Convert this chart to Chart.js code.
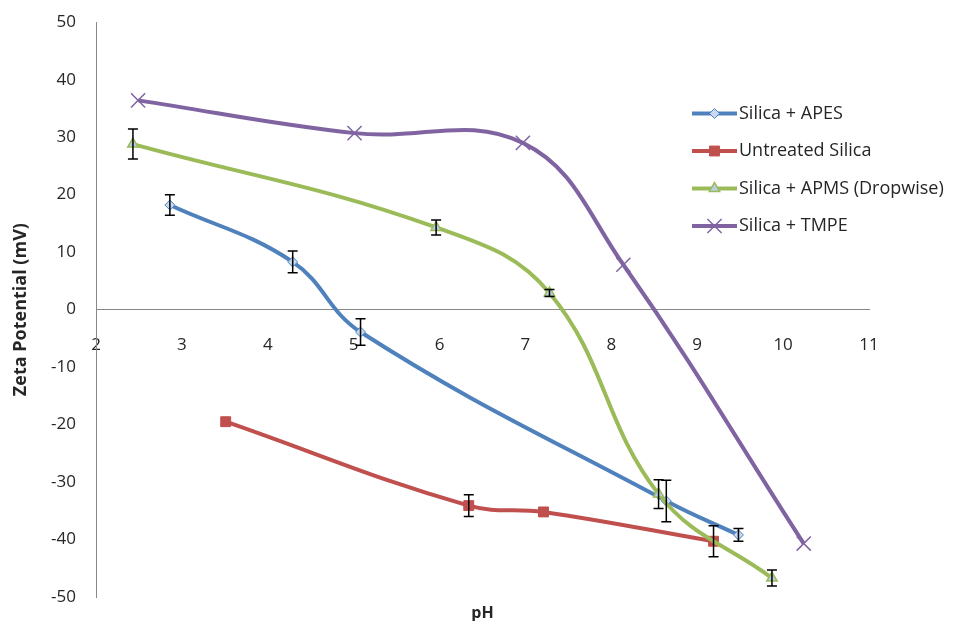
<!DOCTYPE html>
<html>
<head>
<meta charset="utf-8">
<script src="https://cdn.jsdelivr.net/npm/chart.js@4.4.0/dist/chart.umd.min.js"></script>
<style>
  html, body { margin: 0; padding: 0; background: #fff; }
</style>
</head>
<body>
<canvas id="zeta" width="954" height="621"></canvas>
<script>
"use strict";

//Series names
const seriesNames = ["Silica + APES", "Untreated Silica", "Silica + APMS (Dropwise)", "Silica + TMPE"];

//pH, zeta potential (mV) and error bar half-size
const apesPH = [2.86, 4.29, 5.08, 8.64, 9.48];
const apesZeta = [18.2, 8.3, -3.9, -33.3, -39.2];
const apesErr = [1.8, 1.9, 2.3, 3.6, 1.1];

const untreatedPH = [3.51, 6.34, 7.21, 9.19];
const untreatedZeta = [-19.5, -34.1, -35.2, -40.3];
const untreatedErr = [0, 1.9, 0, 2.7];

const apmsPH = [2.43, 5.96, 7.28, 8.55, 9.87];
const apmsZeta = [28.8, 14.3, 2.9, -32.1, -46.7];
const apmsErr = [2.6, 1.3, 0.6, 2.5, 1.4];

const tmpePH = [2.49, 5.01, 6.97, 8.14, 10.24];
const tmpeZeta = [36.4, 30.7, 29.0, 7.8, -40.7];
const tmpeErr = [0, 0, 0, 0, 0];

//Axis ranges
const xRange = [2, 11];
const yRange = [-50, 50];
const yStep = 10;

const FONT = "'Open Sans', Lato, sans-serif";
const TEXT = "#262626";

const toPoints = (xs, ys) => xs.map((x, i) => ({ x: x, y: ys[i] }));

//error bars
const errorBars = {
  id: "errorBars",
  afterDatasetsDraw(chart) {
    const ctx = chart.ctx;
    const yScale = chart.scales.y;
    ctx.save();
    ctx.strokeStyle = "#000";
    ctx.lineWidth = 1.5;
    chart.data.datasets.forEach((ds, i) => {
      const meta = chart.getDatasetMeta(i);
      (ds.errors || []).forEach((e, j) => {
        if (!e) return;
        const pt = meta.data[j];
        const top = yScale.getPixelForValue(ds.data[j].y + e);
        const bottom = yScale.getPixelForValue(ds.data[j].y - e);
        ctx.beginPath();
        ctx.moveTo(pt.x, top);
        ctx.lineTo(pt.x, bottom);
        ctx.moveTo(pt.x - 5, top);
        ctx.lineTo(pt.x + 5, top);
        ctx.moveTo(pt.x - 5, bottom);
        ctx.lineTo(pt.x + 5, bottom);
        ctx.stroke();
      });
    });
    ctx.restore();
  },
};

//excel style legend sitting over the plot
const sideLegend = {
  id: "sideLegend",
  afterDraw(chart) {
    const ctx = chart.ctx;
    chart.data.datasets.forEach((ds, i) => {
      const y = 113.5 + i * 37.5;
      ctx.save();
      ctx.strokeStyle = ds.borderColor;
      ctx.lineWidth = 4;
      ctx.beginPath();
      ctx.moveTo(692, y);
      ctx.lineTo(737, y);
      ctx.stroke();
      ctx.fillStyle = ds.pointBackgroundColor;
      ctx.strokeStyle = ds.pointBorderColor;
      ctx.lineWidth = ds.pointBorderWidth;
      Chart.helpers.drawPoint(ctx, {
        pointStyle: ds.pointStyle,
        radius: ds.pointRadius,
        borderWidth: ds.pointBorderWidth,
      }, 714.5, y);
      ctx.fillStyle = TEXT;
      ctx.font = "18px " + FONT;
      ctx.textBaseline = "middle";
      ctx.fillText(ds.label, 739, y);
      ctx.restore();
    });
  },
};

new Chart(document.getElementById("zeta"), {
  type: "line",
  data: {
    datasets: [
      {
        label: seriesNames[0],
        data: toPoints(apesPH, apesZeta),
        errors: apesErr,
        borderColor: "#4F81BD",
        pointStyle: "rectRot",
        pointRadius: 5,
        pointBackgroundColor: "#C6D9F1",
        pointBorderColor: "#4F81BD",
        pointBorderWidth: 1,
        order: 3,
      },
      {
        label: seriesNames[1],
        data: toPoints(untreatedPH, untreatedZeta),
        errors: untreatedErr,
        borderColor: "#C0504D",
        pointStyle: "rect",
        pointRadius: 7,
        pointBackgroundColor: "#C0504D",
        pointBorderColor: "#C0504D",
        pointBorderWidth: 1,
        order: 2,
      },
      {
        label: seriesNames[2],
        data: toPoints(apmsPH, apmsZeta),
        errors: apmsErr,
        borderColor: "#9BBB59",
        pointStyle: "triangle",
        pointRadius: 6,
        pointBackgroundColor: "#B9CDE5",
        pointBorderColor: "#9BBB59",
        pointBorderWidth: 1.5,
        order: 1,
      },
      {
        label: seriesNames[3],
        data: toPoints(tmpePH, tmpeZeta),
        errors: tmpeErr,
        borderColor: "#8064A2",
        pointStyle: "crossRot",
        pointRadius: 10,
        pointBackgroundColor: "#8064A2",
        pointBorderColor: "#8064A2",
        pointBorderWidth: 1.5,
        order: 0,
      },
    ],
  },
  options: {
    responsive: false,
    animation: false,
    layout: {
      padding: { left: 0, right: 85, top: 3, bottom: 0 },
    },
    elements: {
      line: { borderWidth: 4, tension: 0.4, fill: false },
    },
    scales: {
      x: {
        type: "linear",
        min: xRange[0],
        max: xRange[1],
        position: { y: 0 },
        grid: { display: false },
        border: { display: true, color: "#888", width: 1 },
        ticks: {
          stepSize: 1,
          padding: 17,
          color: TEXT,
          font: { family: FONT, size: 17 },
        },
      },
      y: {
        min: yRange[0],
        max: yRange[1],
        grid: { display: false },
        border: { display: true, color: "#888", width: 1 },
        ticks: {
          stepSize: yStep,
          padding: 12,
          color: TEXT,
          font: { family: FONT, size: 17 },
        },
        title: {
          display: true,
          text: "Zeta Potential (mV)",
          color: TEXT,
          font: { family: FONT, size: 18, weight: "bold" },
          padding: { top: 10, bottom: 0 },
        },
        afterFit(scale) {
          scale.width = 96;
        },
      },
    },
    plugins: {
      legend: { display: false },
      tooltip: { enabled: false },
      title: {
        display: true,
        text: "pH",
        position: "bottom",
        fullSize: false,
        color: TEXT,
        font: { family: FONT, size: 16, weight: "bold", lineHeight: 1 },
        padding: { top: 8, bottom: 0 },
      },
    },
  },
  plugins: [errorBars, sideLegend],
});
</script>
</body>
</html>
